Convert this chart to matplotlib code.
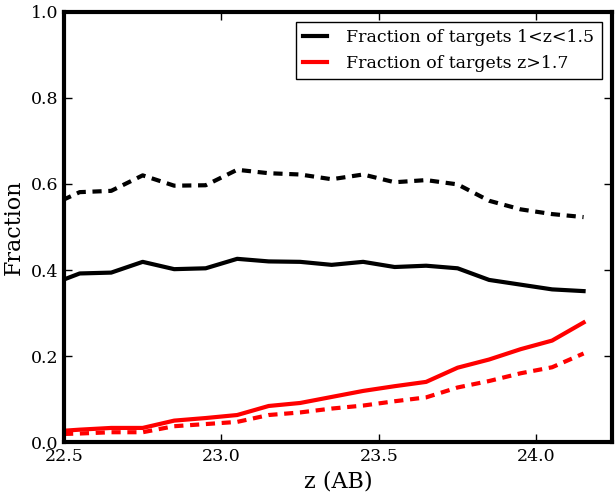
import matplotlib
matplotlib.use("Agg")
import matplotlib.pyplot as plt

# bin centres in z (AB) magnitude
mag = [22.45, 22.55, 22.65, 22.75, 22.85, 22.95, 23.05, 23.15, 23.25,
       23.35, 23.45, 23.55, 23.65, 23.75, 23.85, 23.95, 24.05, 24.15]

# fraction of targets 1<z<1.5 (solid / dashed)
low_solid = [0.364, 0.392, 0.394, 0.419, 0.402, 0.404, 0.426, 0.420, 0.419,
             0.412, 0.419, 0.407, 0.410, 0.404, 0.377, 0.366, 0.355, 0.351]
low_dashed = [0.547, 0.581, 0.584, 0.620, 0.596, 0.597, 0.633, 0.625, 0.622,
              0.611, 0.622, 0.604, 0.609, 0.599, 0.561, 0.541, 0.530, 0.523]

# fraction of targets z>1.7 (solid / dashed)
high_solid = [0.024, 0.029, 0.033, 0.033, 0.050, 0.056, 0.063, 0.084, 0.091,
              0.105, 0.119, 0.130, 0.140, 0.173, 0.192, 0.216, 0.236, 0.278]
high_dashed = [0.018, 0.020, 0.023, 0.023, 0.037, 0.042, 0.047, 0.063, 0.069,
               0.078, 0.085, 0.095, 0.104, 0.127, 0.142, 0.160, 0.174, 0.206]

plt.rcParams["font.family"] = "DejaVu Serif"

fig = plt.figure(figsize=(6.15, 4.94), dpi=100)
ax = fig.add_axes([0.104, 0.105, 0.891, 0.871])

dash = (0, (2.2, 1.6))
ax.plot(mag, low_solid, color="black", lw=3, label="Fraction of targets 1<z<1.5")
ax.plot(mag, low_dashed, color="black", lw=3, ls=dash)
ax.plot(mag, high_solid, color="red", lw=3, label="Fraction of targets z>1.7")
ax.plot(mag, high_dashed, color="red", lw=3, ls=dash)

ax.set_xlim(22.5, 24.24)
ax.set_ylim(0, 1.0)
ax.set_xticks([22.5, 23.0, 23.5, 24.0])
ax.set_yticks([0.0, 0.2, 0.4, 0.6, 0.8, 1.0])
ax.set_xlabel("z (AB)", fontsize=16)
ax.set_ylabel("Fraction", fontsize=16)

for s in ax.spines.values():
    s.set_linewidth(3)
ax.tick_params(direction="in", top=True, right=True, length=6, width=1,
               labelsize=12.5, pad=4)

leg = ax.legend(loc="upper right", fontsize=12.5, fancybox=False,
                handlelength=1.4, handletextpad=1.1, borderaxespad=0.6,
                framealpha=1)
leg.get_frame().set_edgecolor("black")

fig.savefig("out.png", dpi=100)
